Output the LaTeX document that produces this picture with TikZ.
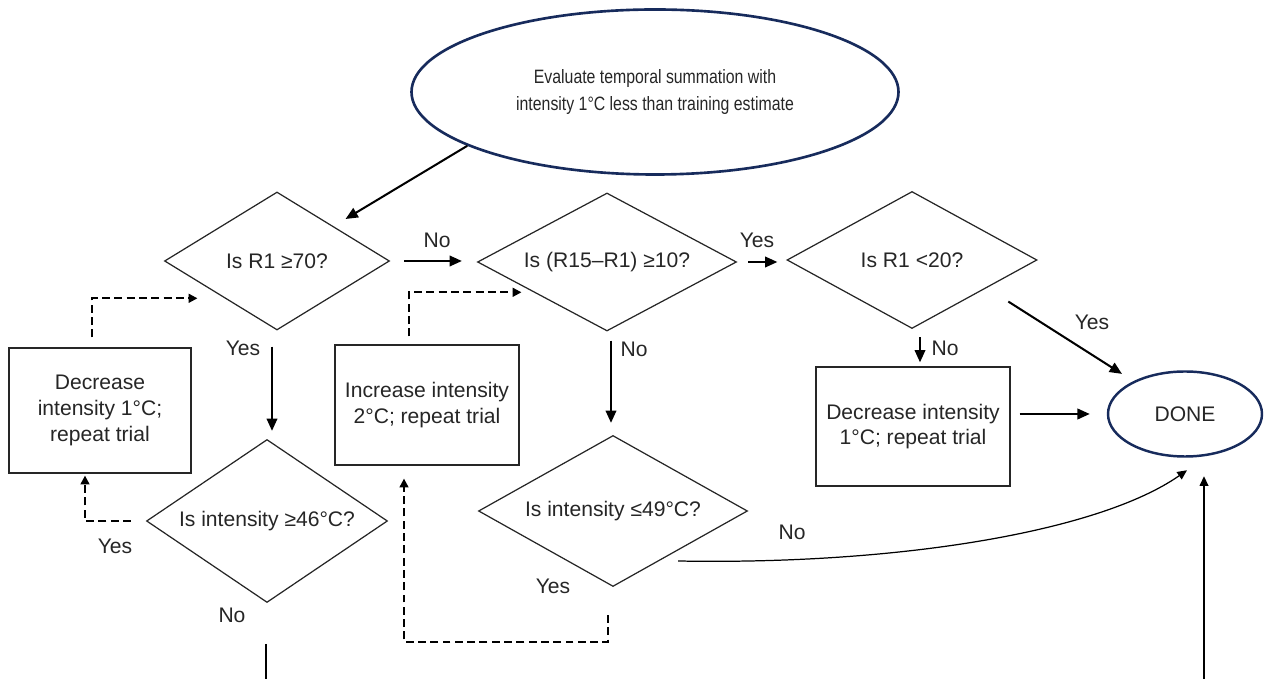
\documentclass[tikz,border=0pt]{standalone}
\usepackage{fontspec}
\setmainfont{Liberation Sans}
\newfontfamily\narrowfont[FakeStretch=0.82]{Liberation Sans}
\usetikzlibrary{calc,shapes.geometric,arrows.meta}
\definecolor{navy}{HTML}{172B5C}
\definecolor{ink}{HTML}{262626}

\begin{document}
\begin{tikzpicture}[font=\fontsize{12}{14.6}\selectfont, text=ink]
            \useasboundingbox (0,0) rectangle (25.28,-13.58);
            \tikzset{
              Decision/.style={diamond, draw=ink, line width=0.7pt, inner sep=0pt, aspect=1.6},
              Process/.style={rectangle, draw=ink, line width=0.7pt, align=center, inner sep=0pt},
              Terminal/.style={ellipse, draw=navy, line width=1.5pt, align=center, inner sep=0pt},
              Flow/.style={draw=black, line width=1.15pt, -{Triangle[length=7pt,width=6pt]}},
              Loop/.style={draw=black, line width=1.1pt, dash pattern=on 4.5pt off 2.5pt, -{Triangle[length=5pt,width=5pt]}},
              ThinLine/.style={draw=black, line width=0.7pt},
              Tag/.style={inner sep=0pt}
            }

            \node[Terminal, minimum width=9.74cm, minimum height=3.30cm,
                  font=\narrowfont\fontsize{11}{15.3}\selectfont] (eval) at (13.10,-1.84)
                 {Evaluate temporal summation with\\intensity 1°C less than training estimate};

            \node[Decision, minimum width=4.50cm, minimum height=2.76cm] (d1) at (5.54,-5.22) {Is R1 ≥70?};
            \node[Decision, minimum width=5.18cm, minimum height=2.76cm] (d2) at (12.14,-5.24) {Is (R15–R1) ≥10?};
            \node[Decision, minimum width=5.00cm, minimum height=2.74cm] (d3) at (18.24,-5.20) {Is R1 <20?};
            \node[Decision, minimum width=4.82cm, minimum height=3.26cm] (d4) at (5.34,-10.42) {Is intensity ≥46°C?};
            \node[Decision, minimum width=5.38cm, minimum height=3.02cm] (d5) at (12.26,-10.22) {Is intensity ≤49°C?};

            \node[Process, minimum width=3.64cm, minimum height=2.50cm] (boxL) at (2.00,-8.21) {Decrease\\intensity 1°C;\\repeat trial};
            \node[Process, minimum width=3.68cm, minimum height=2.40cm] (boxM) at (8.54,-8.10) {Increase intensity\\2°C; repeat trial};
            \node[Process, minimum width=3.88cm, minimum height=2.38cm] (boxR) at (18.26,-8.53) {Decrease intensity\\1°C; repeat trial};

            \node[Terminal, line width=1.4pt, minimum width=3.08cm, minimum height=1.70cm] (done) at (23.70,-8.28) {DONE};

            \node[Tag] (noA) at (8.74,-4.80) {No};
            \node[Tag] (yesA) at (15.14,-4.80) {Yes};
            \node[Tag] (yesB) at (21.84,-6.44) {Yes};
            \node[Tag] (noB) at (18.90,-6.96) {No};
            \node[Tag] (noC) at (12.68,-6.98) {No};
            \node[Tag] (yesC) at (4.86,-6.96) {Yes};
            \node[Tag] (yesD) at (2.30,-10.92) {Yes};
            \node[Tag] (noD) at (4.64,-12.30) {No};
            \node[Tag] (yesE) at (11.06,-11.72) {Yes};
            \node[Tag] (noE) at (15.84,-10.64) {No};

            \coordinate (n1) at ($(d1.south)+(-0.10,-0.32)$);
            \coordinate (n2) at ($(d2.south)+(0.08,-0.18)$);
            \coordinate (n3) at ($(d3.south)+(0.16,-0.16)$);
            \coordinate (out1) at (5.32,-13.58);
            \coordinate (out2) at (24.08,-13.58);

            \draw[Flow, shorten >=0.28cm] (eval.196) -- (d1.north east);
            \draw[Flow, shorten <=0.28cm, shorten >=0.30cm] (d1.east) -- (d1.east -| d2.west);
            \draw[Flow, shorten <=0.22cm, shorten >=0.18cm] (d2.east) -- (d2.east -| d3.west);
            \draw[Flow, shorten >=0.27cm] ($(d3.south east)+(0.67,-0.14)$) -- (done);
            \draw[Flow, shorten >=0.08cm] (n3) -- (n3 |- boxR.north);
            \draw[Flow, shorten <=0.18cm, shorten >=0.34cm] (boxR.east |- done.west) -- (done.west);
            \draw[Flow, shorten >=0.16cm] (n1) -- (n1 |- d4.north);
            \draw[Flow, shorten >=0.24cm] (n2) -- (n2 |- d5.north);

            \draw[Loop, shorten >=0.04cm] ($(d4.west)+(-0.30,0)$) -| ($(boxL.south)+(-0.30,0)$);
            \draw[Loop] ($(boxL.north)+(-0.16,0.20)$) |- ($(d1.south west)+(-0.46,-0.05)$);
            \draw[Loop] ($(boxM.north)+(-0.36,0.16)$) |- ($(d2.south west)+(-0.41,0.09)$);
            \draw[Loop] ($(d5.south)+(-0.10,-0.56)$) -- ++(0,-0.54) -| ($(boxM.south)+(-0.46,-0.26)$);

            \draw[ThinLine, -{Triangle[length=5.5pt,width=5pt]}] ($(d5.east)+(-1.40,-1.00)$)
                 .. controls +(4.44,-0.08) and +(-1.74,-1.22) .. ($(done.south)+(0.04,-0.25)$);
            \draw[ThinLine, -{Triangle[length=5.5pt,width=5pt]}, shorten >=0.37cm] (out2) -- (out2 |- done.south);
            \draw[ThinLine] (out1) ++(0,0.70) -- (out1);
\end{tikzpicture}
\end{document}
